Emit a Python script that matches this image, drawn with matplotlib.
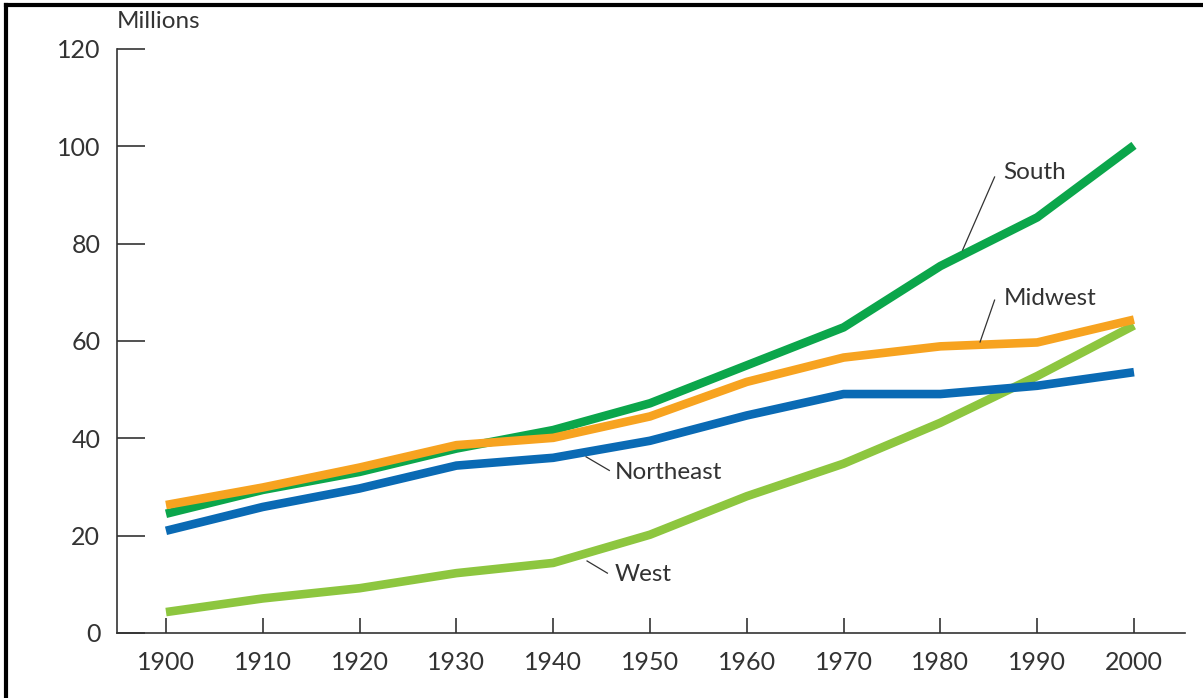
import matplotlib.pyplot as plt
from matplotlib.lines import Line2D

# Population by region, 1900-2000 (millions)
years = [1900, 1910, 1920, 1930, 1940, 1950, 1960, 1970, 1980, 1990, 2000]
northeast = [21.0, 25.9, 29.7, 34.4, 36.0, 39.5, 44.7, 49.1, 49.1, 50.8, 53.6]
midwest = [26.3, 29.9, 34.0, 38.6, 40.1, 44.5, 51.6, 56.6, 58.9, 59.7, 64.4]
south = [24.5, 29.4, 33.1, 37.9, 41.7, 47.2, 55.0, 62.8, 75.4, 85.4, 100.2]
west = [4.3, 7.1, 9.2, 12.3, 14.4, 20.2, 28.1, 34.8, 43.2, 52.8, 63.2]
y_ticks = [0, 20, 40, 60, 80, 100, 120]

plt.rcParams['font.family'] = ['Lato', 'DejaVu Sans']
text_color = '#333333'

fig = plt.figure(figsize=(12.03, 6.98), dpi=100)
ax = fig.add_axes([117 / 1203, 65 / 698, 1068 / 1203, 584 / 698])

lw = 6.2
ax.plot(years, west, color='#8DC63F', lw=lw, solid_capstyle='butt', solid_joinstyle='round')
ax.plot(years, northeast, color='#0A6AB4', lw=lw, solid_capstyle='butt', solid_joinstyle='round')
ax.plot(years, south, color='#0BA64B', lw=lw, solid_capstyle='butt', solid_joinstyle='round')
ax.plot(years, midwest, color='#F7A320', lw=lw, solid_capstyle='butt', solid_joinstyle='round')

ax.set_xlim(1894.94, 2005.27)
ax.set_ylim(0, 120)
ax.set_xticks(years)
ax.set_yticks(y_ticks)

for side in ['top', 'right']:
    ax.spines[side].set_visible(False)
for side in ['left', 'bottom']:
    ax.spines[side].set_color(text_color)
    ax.spines[side].set_linewidth(1.2)

ax.tick_params(axis='y', direction='in', length=20, width=1.2, color=text_color,
               pad=12, labelsize=18, labelcolor=text_color)
ax.tick_params(axis='x', direction='in', length=11, width=1.2, color=text_color,
               pad=13, labelsize=18, labelcolor=text_color)

ax.text(0.0, 1.047, 'Millions', transform=ax.transAxes, fontsize=17.5,
        color=text_color, va='center', ha='left')

# leader-line labels
labels = [
    ('South', (1985.6, 93.7), (1982.3, 78.7), (1986.5, 94.6)),
    ('Midwest', (1985.6, 68.4), (1984.1, 59.8), (1986.5, 68.8)),
    ('Northeast', (1943.4, 36.2), (1945.8, 33.4), (1946.4, 32.9)),
    ('West', (1943.5, 14.8), (1945.6, 12.3), (1946.3, 12.1)),
]
for name, p1, p2, tpos in labels:
    ax.plot([p1[0], p2[0]], [p1[1], p2[1]], color=text_color, lw=0.9)
    ax.text(tpos[0], tpos[1], name, fontsize=17.5, color=text_color,
            va='center', ha='left')

# frame lines on top and left of the figure
fig.add_artist(Line2D([6 / 1203, 6 / 1203], [0, 1 - 5 / 698], transform=fig.transFigure,
                      color='black', lw=3))
fig.add_artist(Line2D([6 / 1203, 1], [1 - 5 / 698, 1 - 5 / 698], transform=fig.transFigure,
                      color='black', lw=3))

fig.savefig('out.png', dpi=100)
